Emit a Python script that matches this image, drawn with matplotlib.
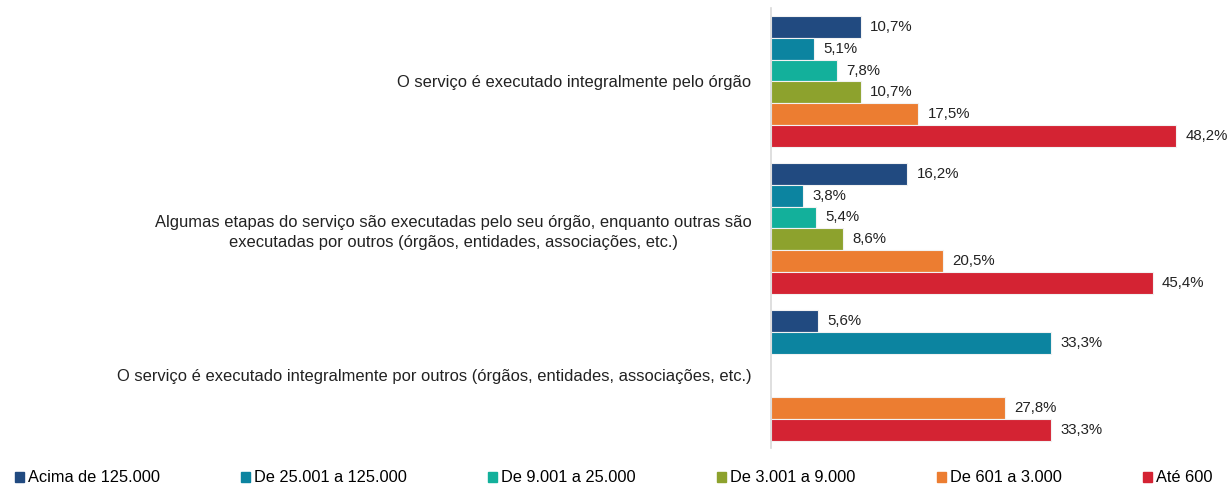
import numpy as np
import matplotlib
matplotlib.use("Agg")
import matplotlib.pyplot as plt

plt.rcParams['font.family'] = ['Liberation Sans', 'DejaVu Sans']

categorias = [
    "O serviço é executado integralmente pelo órgão",
    "Algumas etapas do serviço são executadas pelo seu órgão, enquanto outras são\nexecutadas por outros (órgãos, entidades, associações, etc.)",
    "O serviço é executado integralmente por outros (órgãos, entidades, associações, etc.)",
]
series = ["Acima de 125.000", "De 25.001 a 125.000", "De 9.001 a 25.000",
          "De 3.001 a 9.000", "De 601 a 3.000", "Até 600"]
cores = ["#214A80", "#0C84A0", "#13B09B", "#8DA22D", "#EC7D31", "#D42333"]

# valores (%) por faixa, na ordem das categorias; None = sem barra
acima_125k = [10.7, 16.2, 5.6]
de_25k_125k = [5.1, 3.8, 33.3]
de_9k_25k = [7.8, 5.4, None]
de_3k_9k = [10.7, 8.6, None]
de_601_3k = [17.5, 20.5, 27.8]
ate_600 = [48.2, 45.4, 33.3]
valores = [acima_125k, de_25k_125k, de_9k_25k, de_3k_9k, de_601_3k, ate_600]

fig = plt.figure(figsize=(12.29, 4.93), dpi=100)
ax = fig.add_axes([771 / 1229, 1 - 448 / 493, (1200 - 771) / 1229, 440 / 493])

passo = 6.74
inicio = 0.367
for s, (nome, vals, cor) in enumerate(zip(series, valores, cores)):
    for g, v in enumerate(vals):
        if v is None:
            continue
        y = inicio + g * passo + s + 0.5
        ax.barh(y, v, height=1.0, color=cor, edgecolor="#F2F2F2", linewidth=0.8)
        ax.text(v + 1.1, y, f"{v:.1f}%".replace(".", ","), va="center", ha="left",
                fontsize=10.8, color="#222222", clip_on=False)

centros = [inicio + g * passo + 3 for g in range(len(categorias))]
ax.set_yticks(centros)
ax.set_yticklabels(categorias, fontsize=11.85, color="#222222",
                   multialignment="center", linespacing=1.42)
ax.tick_params(axis="y", length=0, pad=14)
ax.set_xticks([])
ax.set_xlim(0, (1200 - 771) / 8.41)
ax.set_ylim(20.18, 0)
for lado in ["top", "right", "bottom"]:
    ax.spines[lado].set_visible(False)
ax.spines["left"].set_color("#D9D9D9")
ax.spines["left"].set_linewidth(1.2)

handles = [plt.Rectangle((0, 0), 1, 1, color=c) for c in cores]
fig.legend(handles, series, loc="center left", bbox_to_anchor=(15 / 1229, 1 - 478 / 493),
           ncol=6, frameon=False, fontsize=11.8, handlelength=0.55, handleheight=0.55,
           handletextpad=0.25, columnspacing=4.95, borderpad=0, borderaxespad=0)

fig.savefig("out.png", dpi=100)
